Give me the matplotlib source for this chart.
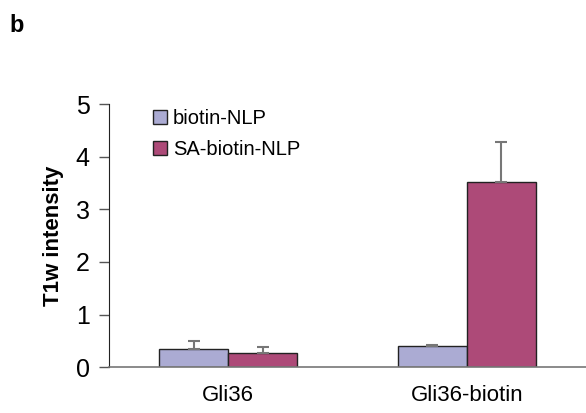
import numpy as np
import matplotlib.pyplot as plt

plt.rcParams['font.family'] = ['Liberation Sans', 'DejaVu Sans']

categories = ["Gli36", "Gli36-biotin"]
biotin_nlp = [0.34, 0.40]
biotin_nlp_err = [0.15, 0.02]
sa_biotin_nlp = [0.27, 3.52]
sa_biotin_nlp_err = [0.11, 0.76]

fig = plt.figure(figsize=(5.86, 4.13), dpi=100)
ax = fig.add_axes([0.186, 0.111, 0.814, 0.637])

x = np.arange(len(categories))
w = 0.29
ax.bar(x - w / 2, biotin_nlp, w, color="#ABABD3", edgecolor="#222222", linewidth=1,
       yerr=[np.zeros(2), biotin_nlp_err], ecolor="#777777", capsize=4.5,
       error_kw={"elinewidth": 1.5, "capthick": 1.5}, label="biotin-NLP", zorder=2)
ax.bar(x + w / 2, sa_biotin_nlp, w, color="#AD4A78", edgecolor="#222222", linewidth=1,
       yerr=[np.zeros(2), sa_biotin_nlp_err], ecolor="#777777", capsize=4.5,
       error_kw={"elinewidth": 1.5, "capthick": 1.5}, label="SA-biotin-NLP", zorder=2)

ax.set_xlim(-0.5, 1.5)
ax.set_ylim(0, 5)
ax.set_yticks(range(6))
ax.set_xticks(x)
ax.set_xticklabels(categories, fontsize=16)
ax.tick_params(axis="y", labelsize=18, length=7, width=1, color="#555555", pad=7)
ax.tick_params(axis="x", length=0, pad=13)
ax.spines["top"].set_visible(False)
ax.spines["right"].set_visible(False)
ax.spines["bottom"].set_color("#777777")
ax.spines["bottom"].set_linewidth(1.2)
ax.spines["left"].set_color("#222222")
ax.set_ylabel("T1w intensity", fontsize=16, fontweight="bold", labelpad=8)

ax.legend(loc="upper left", bbox_to_anchor=(0.092, 0.98), frameon=False, fontsize=14.5,
          borderpad=0, borderaxespad=0,
          handlelength=0.7, handleheight=0.7, handletextpad=0.3, labelspacing=0.6)

fig.text(0.016, 0.923, "b", fontsize=17, fontweight="bold")

fig.savefig("out.png", dpi=100)
